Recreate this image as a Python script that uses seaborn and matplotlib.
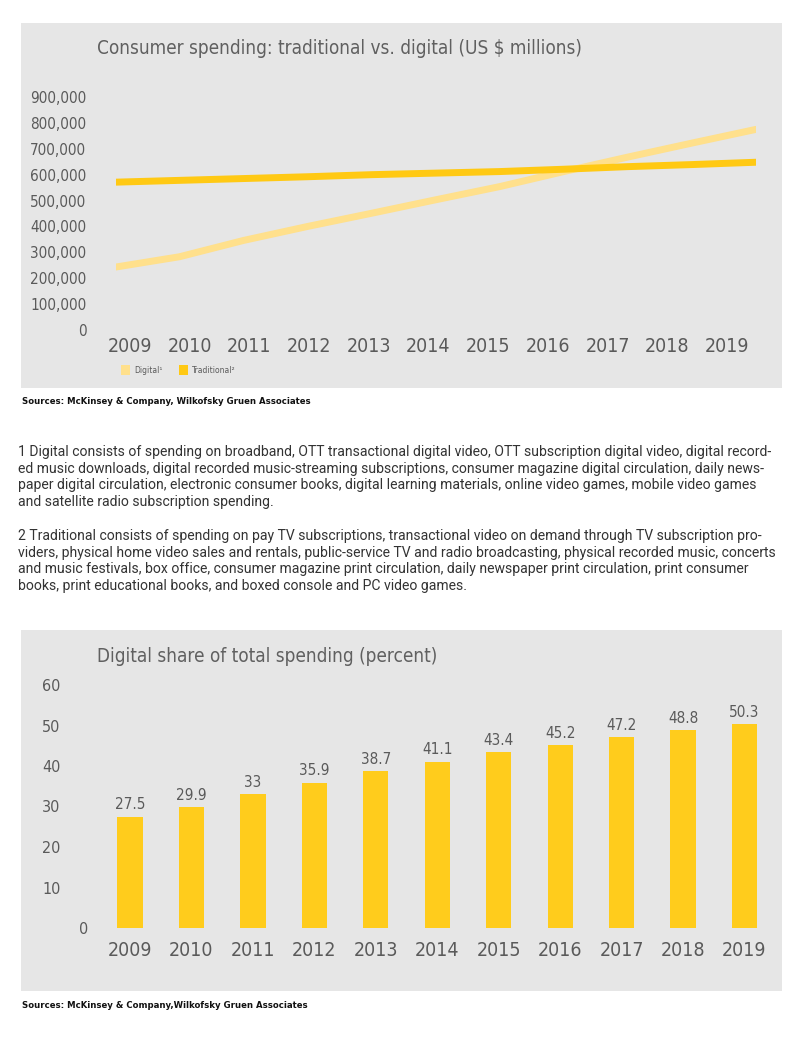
import numpy as np
import pandas as pd
import seaborn as sns
import matplotlib
matplotlib.use("Agg")
import matplotlib.pyplot as plt
from matplotlib import font_manager as fm
from matplotlib.patches import Rectangle, Patch
from matplotlib.transforms import ScaledTranslation

# ---------------- data ----------------
years = [2009, 2010, 2011, 2012, 2013, 2014, 2015, 2016, 2017, 2018, 2019]
digital = [243000, 283000, 346000, 400000, 451000, 503000, 554000, 612000, 668000, 722000, 775000]
traditional = [571000, 578000, 585000, 592000, 600000, 606000, 612000, 621000, 631000, 639000, 648000]
share = [27.5, 29.9, 33, 35.9, 38.7, 41.1, 43.4, 45.2, 47.2, 48.8, 50.3]
series_names = ["Digital\u00b9", "Traditional\u00b2"]
line_ticks = [0, 100000, 200000, 300000, 400000, 500000, 600000, 700000, 800000, 900000]
bar_ticks = [0, 10, 20, 30, 40, 50, 60]

title1 = "Consumer spending: traditional vs. digital (US $ millions)"
title2 = "Digital share of total spending (percent)"
source = "Sources: McKinsey & Company, Wilkofsky Gruen Associates"
source2 = "Sources: McKinsey & Company,Wilkofsky Gruen Associates"
note1 = [
    "1 Digital consists of spending on broadband, OTT transactional digital video, OTT subscription digital video, digital record-",
    "ed music downloads, digital recorded music-streaming subscriptions, consumer magazine digital circulation, daily news-",
    "paper digital circulation, electronic consumer books, digital learning materials, online video games, mobile video games",
    "and satellite radio subscription spending.",
]
note2 = [
    "2 Traditional consists of spending on pay TV subscriptions, transactional video on demand through TV subscription pro-",
    "viders, physical home video sales and rentals, public-service TV and radio broadcasting, physical recorded music, concerts",
    "and music festivals, box office, consumer magazine print circulation, daily newspaper print circulation, print consumer",
    "books, print educational books, and boxed console and PC video games.",
]

# ---------------- style ----------------
C_DIG = "#FFE08C"
C_TRAD = "#FFC914"
C_BAR = "#FFCC1C"
C_BG = "#E6E6E6"
C_TXT = "#5A5A5A"

sns.set_theme(style="white")
names = {f.name for f in fm.fontManager.ttflist}
if "Liberation Sans Narrow" in names:
    CF, CS = "Liberation Sans Narrow", "normal"
else:
    CF, CS = "DejaVu Sans", "condensed"
BODY = "Roboto" if "Roboto" in names else "DejaVu Sans"
plt.rcParams["font.family"] = [CF, "DejaVu Sans"]

W, H = 800, 1052
fig = plt.figure(figsize=(W / 100, H / 100), dpi=100)
fig.patch.set_facecolor("white")


def fx(px):
    return px / W


def fy(py):
    return 1 - py / H


def ax_rect(l, t, r, b):
    return [fx(l), fy(b), (r - l) / W, (b - t) / H]


# grey panels
for (l, t, r, b) in [(21, 23, 782, 388), (21, 630, 782, 991)]:
    fig.patches.append(Rectangle((fx(l), fy(b)), (r - l) / W, (b - t) / H,
                                 transform=fig.transFigure, facecolor=C_BG,
                                 edgecolor="none", zorder=-5))

# ---------------- line chart ----------------
df = pd.DataFrame({
    "year": years * 2,
    "value": digital + traditional,
    "type": [series_names[0]] * len(years) + [series_names[1]] * len(years),
})
ax = fig.add_axes(ax_rect(115.5, 97, 756, 330))
ax.set_zorder(2)
ax.set_facecolor("none")
sns.lineplot(data=df, x="year", y="value", hue="type", ax=ax,
             palette={series_names[0]: C_DIG, series_names[1]: C_TRAD},
             linewidth=5, legend=False)
ax.set_xlim(2009, 2019)
ax.set_ylim(0, 900000)
ax.set_yticks(line_ticks)
ax.set_yticklabels([f"{v:,}" for v in line_ticks])
ax.tick_params(axis="y", length=0, pad=21, labelsize=11, labelcolor=C_TXT)
ax.set_xticks([])
ax.set_xlabel("")
ax.set_ylabel("")
for s in ax.spines.values():
    s.set_visible(False)
for lab in ax.get_yticklabels():
    lab.set_fontstretch(CS)

ax2 = ax.twiny()
ax2.set_facecolor("none")
ax2.set_xlim(2008.757, 2019.486)
ax2.set_xticks(years)
ax2.set_xticklabels([str(y) for y in years])
ax2.xaxis.set_ticks_position("bottom")
ax2.tick_params(axis="x", length=0, pad=5, labelsize=14, labelcolor=C_TXT)
for lab in ax2.get_xticklabels():
    lab.set_fontstretch(CS)
for s in ax2.spines.values():
    s.set_visible(False)

fig.text(fx(97), fy(48), title1, fontsize=13.6, color="#606060",
         va="center", ha="left", fontstretch=CS)

handles = [Patch(facecolor=C_DIG, edgecolor="none"), Patch(facecolor=C_TRAD, edgecolor="none")]
leg = fig.legend(handles, series_names, loc="center left",
                 bbox_to_anchor=(fx(117), fy(370)), ncol=2, frameon=False,
                 fontsize=5.5, handlelength=1.2, handleheight=1.6,
                 handletextpad=0.5, columnspacing=2.2, borderpad=0)
for t in leg.get_texts():
    t.set_color(C_TXT)

fig.text(fx(22), fy(402), source, fontsize=6.8, fontweight="bold",
         color="#111111", va="center", ha="left", fontstretch=CS)

# ---------------- footnotes ----------------
for i, line in enumerate(note1):
    fig.text(fx(18), fy(452 + 16.6 * i), line, fontsize=10.1, family=BODY,
             color="#333333", va="center", ha="left")
for i, line in enumerate(note2):
    fig.text(fx(18), fy(536 + 16.6 * i), line, fontsize=10.1, family=BODY,
             color="#333333", va="center", ha="left")

# ---------------- bar chart ----------------
bdf = pd.DataFrame({"year": [str(y) for y in years], "share": share})
bx = fig.add_axes(ax_rect(99.3, 685, 775.2, 928))
bx.set_zorder(2)
bx.set_facecolor("none")
sns.barplot(data=bdf, x="year", y="share", color=C_BAR, width=0.41,
            saturation=1, linewidth=0, edgecolor="none", ax=bx)
bx.set_xlim(-0.5, 10.5)
bx.set_ylim(0, 60)
bx.set_yticks(bar_ticks)
bx.set_yticklabels([str(v) for v in bar_ticks])
bx.tick_params(axis="y", length=0, pad=28, labelsize=11.5, labelcolor=C_TXT)
bx.tick_params(axis="x", length=0, pad=9, labelsize=14, labelcolor=C_TXT)
for lab in bx.get_xticklabels() + bx.get_yticklabels():
    lab.set_fontstretch(CS)
bx.set_xlabel("")
bx.set_ylabel("")
for s in bx.spines.values():
    s.set_visible(False)
# shift the "0" label toward the axis like the reference
zero_lab = bx.yaxis.get_major_ticks()[0].label1
zero_lab.set_transform(zero_lab.get_transform() + ScaledTranslation(0.28, 0, fig.dpi_scale_trans))

for cont in bx.containers:
    bx.bar_label(cont, labels=[f"{v:g}" for v in share], padding=3,
                 fontsize=11, color=C_TXT, fontstretch=CS)

fig.text(fx(97), fy(656), title2, fontsize=13.6, color="#606060",
         va="center", ha="left", fontstretch=CS)
fig.text(fx(22), fy(1005), source2, fontsize=6.8, fontweight="bold",
         color="#111111", va="center", ha="left", fontstretch=CS)

fig.savefig("out.png", dpi=100, facecolor="white")
